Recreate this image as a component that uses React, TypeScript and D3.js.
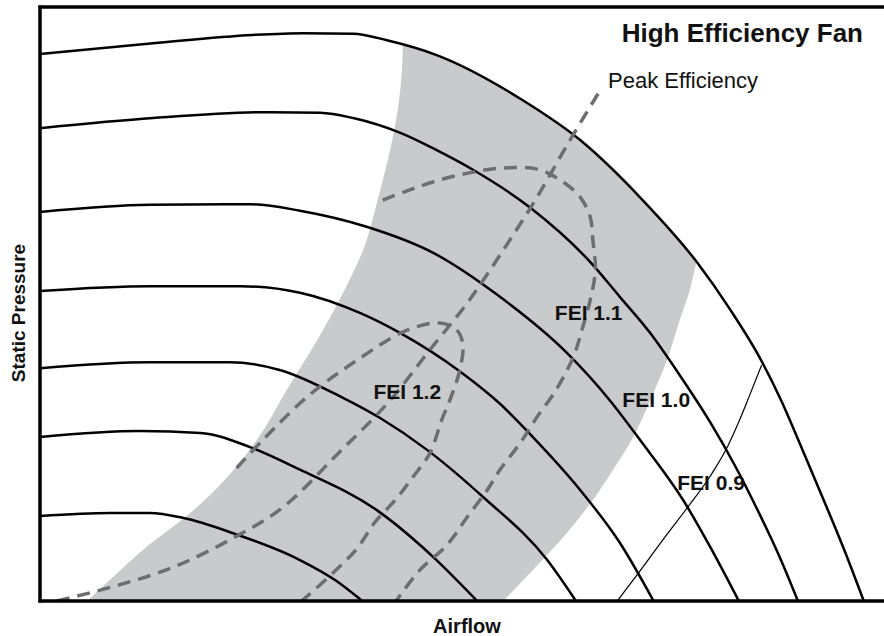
import React from "react";
import * as d3 from "d3";

type Pt = [number, number];

// Fan curves: [airflow %, static pressure %]
const fanCurve1: Pt[] = [[0,92.1],[13.4,93.9],[25.2,95.3],[31.2,95.6],[37.1,95.5],[41.1,94.4],[47.0,91.9],[57.2,84.3],[64.0,77.6],[71.4,67.5],[77.8,57.1],[81.8,49.0],[85.3,40.9],[87.9,33.5],[90.0,26.6],[93.0,16.5],[95.4,8.2],[97.6,0]];
const fanCurve2: Pt[] = [[0,79.6],[13.4,81.3],[27.3,82.3],[33.2,82.2],[37.1,81.3],[42.7,78.8],[47.0,75.9],[51.3,72.6],[58.1,66.2],[65.5,56.6],[68.7,51.2],[72.3,45.1],[75.8,38.0],[79.4,30.1],[82.3,22.9],[85.3,14.5],[87.7,7.2],[89.8,0]];
const fanCurve3: Pt[] = [[0,65.5],[13.0,66.7],[24.9,66.8],[30.8,65.7],[38.7,63.0],[46.6,58.6],[54.5,51.2],[62.4,41.8],[67.5,33.8],[71.1,27.1],[76.2,17.0],[79.6,8.6],[82.8,0]];
const fanCurve4: Pt[] = [[0,52.2],[13.0,53.0],[23.7,53.0],[30.8,51.9],[37.9,48.5],[42.7,45.1],[49.8,38.6],[54.5,33.2],[58.4,27.6],[64.0,18.7],[68.7,9.8],[72.7,0]];
const fanCurve5: Pt[] = [[0,39.2],[13.0,40.2],[22.5,40.2],[28.4,38.9],[35.9,34.2],[40.3,30.8],[45.9,25.4],[52.5,17.5],[60.1,6.9],[63.5,0]];
const fanCurve6: Pt[] = [[0,27.6],[11.8,28.6],[19.0,28.3],[24.9,25.9],[30.8,22.1],[39.9,15.3],[46.6,7.4],[51.8,0]];
const fanCurve7: Pt[] = [[0,14.3],[8.3,14.8],[13.0,14.8],[16.9,14.0],[22.9,11.4],[30.8,6.9],[35.0,3.5],[38.2,0]];
const fanCurves: Pt[][] = [fanCurve1, fanCurve2, fanCurve3, fanCurve4, fanCurve5, fanCurve6, fanCurve7];

// Shaded high-efficiency band edges
const bandLeftEdge: Pt[] = [[43.1,99],[43.0,93.6],[42.8,87.7],[42.2,81.0],[41.2,74.2],[40.0,67.5],[38.5,59.9],[36.1,52.4],[33.2,44.8],[29.6,36.4],[25.7,27.1],[21.9,20.4],[17.8,14.8],[12.2,8.6],[5.6,0]];
const bandRightEdge: Pt[] = [[54.9,0],[58.4,5.2],[62.4,11.4],[65.5,17.0],[67.9,22.1],[70.3,27.6],[72.3,33.8],[74.3,40.6],[75.8,47.3],[77.0,52.4],[77.8,57.1],[79.0,62.0],[81.0,70.0],[84.0,99]];

// Dashed contours
const peakEfficiency: Pt[] = [[2.0,0],[8.6,2.4],[15.8,5.7],[22.5,10.3],[28.8,15.8],[35.5,25.1],[41.8,34.3],[46.2,42.3],[50.9,50.7],[54.9,59.1],[58.9,68.0],[62.8,77.6],[66.6,86.5]];
const fei12Contour: Pt[] = [[23.3,22.4],[26.4,27.1],[31.6,34.3],[37.1,40.1],[43.5,45.6],[47.4,46.8],[49.4,45.6],[50.1,43.1],[49.8,39.2],[48.8,34.7],[47.6,30.5],[46.2,24.9],[44.2,20.9],[42.1,17.0],[39.7,13.3],[37.6,8.9],[34.7,4.7],[31.0,0]];
const fei11Contour: Pt[] = [[40.6,67.5],[43.8,69.2],[47.4,70.9],[51.3,72.2],[54.9,72.9],[58.9,72.7],[61.6,70.9],[64.0,68.0],[65.2,64.6],[65.5,60.8],[65.8,55.7],[65.2,50.7],[64.3,46.1],[63.2,41.1],[61.0,35.2],[58.9,31.0],[56.9,26.6],[54.5,22.1],[53.0,18.7],[50.6,14.1],[48.2,9.4],[45.0,5.2],[42.7,1.0],[42.2,0]];
const fei09Line: Pt[] = [[68.4,0],[70.9,4.7],[73.8,10.3],[76.7,15.7],[79.4,21.0],[81.5,26.1],[82.9,30.5],[84.1,34.7],[85.5,39.7]];

// Labels
const feiLabels = ["FEI 1.2", "FEI 1.1", "FEI 1.0", "FEI 0.9"];
const feiLabelAt: Pt[] = [[39.5,34.0],[61.0,47.3],[69.0,32.7],[75.5,18.7]];
const peakLabel = "Peak Efficiency";
const peakLabelAt: Pt = [67.3, 86.4];
const titleText = "High Efficiency Fan";
const xTitle = "Airflow";
const yTitle = "Static Pressure";

const W = 884, H = 636;
const M = { left: 40, top: 7, right: 884, bottom: 601 };

export default function App() {
  const x = d3.scaleLinear().domain([0, 100]).range([M.left, M.right]);
  const y = d3.scaleLinear().domain([0, 100]).range([M.bottom, M.top]);
  const smooth = d3.curveCatmullRom.alpha(0.5);
  const line = d3.line<Pt>().x(d => x(d[0])).y(d => y(d[1])).curve(smooth);
  const mono = d3.line<Pt>().x(d => x(d[0])).y(d => y(d[1])).curve(d3.curveMonotoneX);
  const underTop = d3.area<Pt>().x(d => x(d[0])).y0(y(0)).y1(d => y(d[1])).curve(d3.curveMonotoneX);

  const bandPath = (line(bandLeftEdge) || "") + "L" + (line(bandRightEdge) || "").slice(1) + "Z";

  const font = "'Liberation Sans', Arial, Helvetica, sans-serif";
  const dashColor = "#6d6e71";

  return (
    <svg width={W} height={H} style={{ position: "absolute", left: 0, top: 0, background: "#fff" }} fontFamily={font}>
      <defs>
        <clipPath id="underTop">
          <path d={underTop(fanCurve1) || ""} />
        </clipPath>
      </defs>
      <path d={bandPath} fill="#c9cacc" clipPath="url(#underTop)" />
      {fanCurves.map((c, i) => (
        <path key={i} d={mono(c) || ""} fill="none" stroke="#000" strokeWidth={2.5} />
      ))}
      <path d={mono(fei09Line) || ""} fill="none" stroke="#000" strokeWidth={1.2} />
      <path d={mono(peakEfficiency) || ""} fill="none" stroke={dashColor} strokeWidth={3.5} strokeDasharray="13 8" />
      {[fei12Contour, fei11Contour].map((c, i) => (
        <path key={i} d={line(c) || ""} fill="none" stroke={dashColor} strokeWidth={3.5} strokeDasharray="13 8" />
      ))}
      {/* frame */}
      <line x1={x(0)} x2={x(0)} y1={y(100) - 1.5} y2={y(0) + 1.5} stroke="#000" strokeWidth={3.5} />
      <line x1={x(0) - 1.5} x2={x(100)} y1={y(0)} y2={y(0)} stroke="#000" strokeWidth={3.5} />
      <line x1={x(0) - 1.5} x2={x(100)} y1={y(100)} y2={y(100)} stroke="#000" strokeWidth={3.5} />
      {feiLabels.map((t, i) => (
        <text key={t} x={x(feiLabelAt[i][0])} y={y(feiLabelAt[i][1])} fontSize={21} fontWeight={700} fill="#111">{t}</text>
      ))}
      <text x={x(peakLabelAt[0])} y={y(peakLabelAt[1])} fontSize={22} fill="#111">{peakLabel}</text>
      <text x={863} y={42} fontSize={26} fontWeight={700} textAnchor="end" fill="#111">{titleText}</text>
      <text x={(M.left + M.right) / 2 + 5} y={633} fontSize={20} fontWeight={700} textAnchor="middle" fill="#111">{xTitle}</text>
      <text transform={`translate(25, ${(M.top + M.bottom) / 2 + 9}) rotate(-90)`} fontSize={19} fontWeight={700} textAnchor="middle" fill="#111">{yTitle}</text>
    </svg>
  );
}
